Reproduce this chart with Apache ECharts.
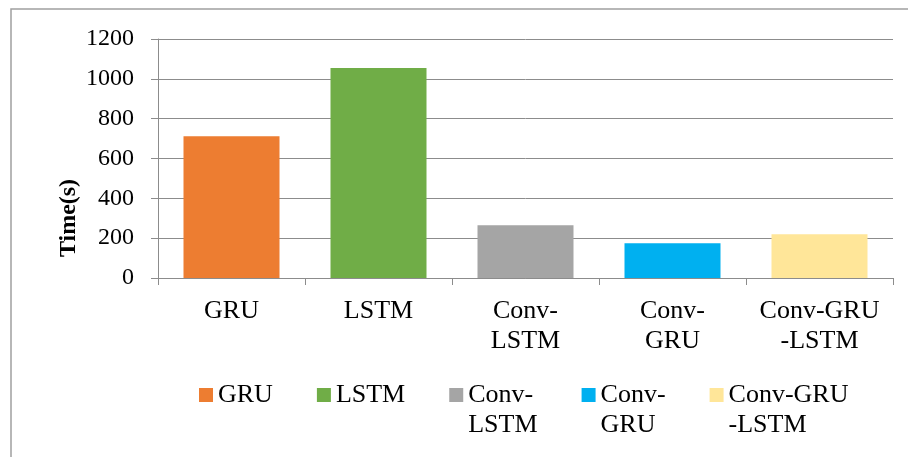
<!DOCTYPE html>
<html>
<head>
<meta charset="utf-8">
<script src="https://cdn.jsdelivr.net/npm/echarts@6/dist/echarts.min.js"></script>
<style>
html,body{margin:0;padding:0;background:#fff;}
#chart{width:908px;height:457px;}
</style>
</head>
<body>
<div id="chart"></div>
<script>
var categories = ['GRU', 'LSTM', 'Conv-\nLSTM', 'Conv-\nGRU', 'Conv-GRU\n-LSTM'];
var values = [712, 1054, 265, 175, 220];
var colors = ['#ED7D31', '#70AD47', '#A5A5A5', '#00B0F0', '#FFE699'];
var yTicks = { min: 0, max: 1200, interval: 200 };
var yTitle = 'Time(s)';

var FONT = '"Liberation Serif", "Times New Roman", serif';
var GRID_COLOR = '#8c8c8c';

var series = categories.map(function (name, i) {
  var d = categories.map(function (c, j) { return j === i ? values[i] : null; });
  return {
    name: name,
    type: 'bar',
    stack: 'all',
    barWidth: 96,
    itemStyle: { color: colors[i] },
    data: d
  };
});

var chart = echarts.init(document.getElementById('chart'), null, { renderer: 'canvas' });
chart.setOption({
  animation: false,
  backgroundColor: '#fff',
  grid: { left: 158, top: 39, width: 735, height: 239, containLabel: false },
  xAxis: {
    type: 'category',
    data: categories,
    axisLine: { lineStyle: { color: GRID_COLOR, width: 1 } },
    axisTick: { show: true, length: 7, lineStyle: { color: GRID_COLOR } },
    axisLabel: {
      interval: 0, margin: 18, color: '#000',
      fontFamily: FONT, fontSize: 26, lineHeight: 30
    }
  },
  yAxis: {
    type: 'value',
    min: yTicks.min, max: yTicks.max, interval: yTicks.interval,
    axisLine: { show: true, lineStyle: { color: GRID_COLOR, width: 1 } },
    axisTick: { show: true, length: 7, lineStyle: { color: GRID_COLOR } },
    splitLine: { show: true, lineStyle: { color: GRID_COLOR, width: 1 } },
    axisLabel: {
      margin: 24, color: '#000', fontFamily: FONT, fontSize: 24,
      formatter: function (v) { return String(v); }
    }
  },
  legend: {
    left: 199, top: 350, padding: 0,
    itemWidth: 14, itemHeight: 14, itemGap: 44,
    icon: 'rect',
    data: categories,
    formatter: function (name) { return name.indexOf('\n') >= 0 ? ' \n' + name : name; },
    textStyle: { color: '#000', fontFamily: FONT, fontSize: 26, lineHeight: 30 }
  },
  graphic: [
    {
      type: 'rect', silent: true, z: -1,
      shape: { x: 11, y: 9, width: 1000, height: 1000 },
      style: { fill: 'none', stroke: '#a0a0a0', lineWidth: 1.5 }
    },
    {
      type: 'text', x: 69, y: 218, rotation: Math.PI / 2,
      style: {
        text: yTitle, align: 'center', verticalAlign: 'middle',
        font: 'bold 24px ' + FONT, fill: '#000'
      }
    }
  ],
  series: series
});
</script>
</body>
</html>
